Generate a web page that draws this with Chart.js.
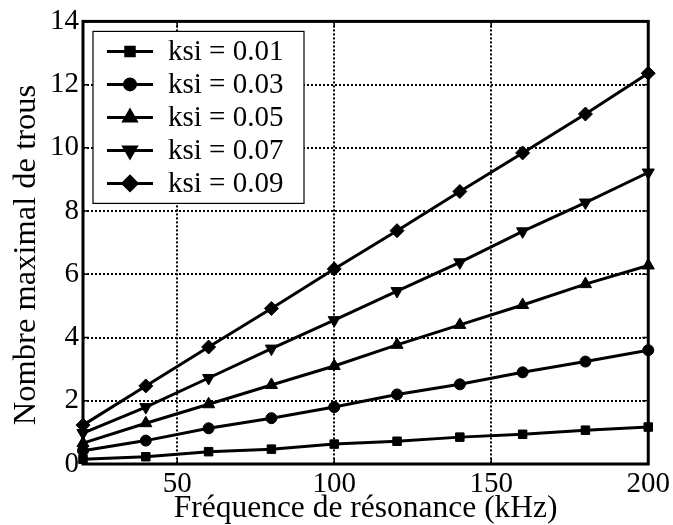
<!DOCTYPE html>
<html>
<head>
<meta charset="utf-8">
<script src="https://cdn.jsdelivr.net/npm/chart.js@4.4.0/dist/chart.umd.min.js"></script>
<style>
html,body{margin:0;padding:0;background:#fff;}
#wrap{width:673px;height:525px;position:relative;}
</style>
</head>
<body>
<div id="wrap"><canvas id="c" width="673" height="525"></canvas></div>
<script>
const freq = [20, 40, 60, 80, 100, 120, 140, 160, 180, 200];
const ksi001 = [0.15, 0.23, 0.39, 0.47, 0.63, 0.72, 0.85, 0.94, 1.07, 1.17];
const ksi003 = [0.42, 0.74, 1.13, 1.45, 1.80, 2.20, 2.52, 2.90, 3.24, 3.60];
const ksi005 = [0.66, 1.29, 1.89, 2.50, 3.10, 3.77, 4.40, 5.03, 5.69, 6.28];
const ksi007 = [0.98, 1.80, 2.72, 3.65, 4.55, 5.47, 6.38, 7.36, 8.27, 9.22];
const ksi009 = [1.23, 2.47, 3.70, 4.92, 6.17, 7.38, 8.62, 9.84, 11.07, 12.36];
const seriesLabels = ['ksi = 0.01', 'ksi = 0.03', 'ksi = 0.05', 'ksi = 0.07', 'ksi = 0.09'];
const xTickValues = [50, 100, 150, 200];
const yTickValues = [0, 2, 4, 6, 8, 10, 12, 14];
const xTitle = 'Fréquence de résonance (kHz)';
const yTitle = 'Nombre maximal de trous';

const FONT = "'Liberation Serif', 'Times New Roman', serif";
const styles = [
  {pointStyle: 'rect', rotation: 0, radius: 6},
  {pointStyle: 'circle', rotation: 0, radius: 5.5},
  {pointStyle: 'triangle', rotation: 0, radius: 7},
  {pointStyle: 'triangle', rotation: 180, radius: 7},
  {pointStyle: 'rectRot', rotation: 0, radius: 7}
];
const allSeries = [ksi001, ksi003, ksi005, ksi007, ksi009];

const datasets = allSeries.map((vals, i) => ({
  label: seriesLabels[i],
  data: freq.map((f, j) => ({x: f, y: vals[j]})),
  borderColor: '#000',
  backgroundColor: '#000',
  borderWidth: 3,
  pointStyle: styles[i].pointStyle,
  pointRotation: styles[i].rotation,
  pointRadius: styles[i].radius,
  pointBorderWidth: 1,
  pointBackgroundColor: '#000',
  pointBorderColor: '#000',
  tension: 0,
  clip: false
}));

const frameLegend = {
  id: 'frameLegend',
  afterDatasetsDraw(chart) {
    const {ctx, chartArea: a} = chart;
    ctx.save();
    ctx.strokeStyle = '#000';
    ctx.lineWidth = 1.5;
    ctx.setLineDash([]);
    const xs = chart.scales.x, ys = chart.scales.y;
    xTickValues.forEach(v => {
      const px = xs.getPixelForValue(v);
      ctx.beginPath();
      ctx.moveTo(px, a.bottom); ctx.lineTo(px, a.bottom - 6);
      ctx.moveTo(px, a.top); ctx.lineTo(px, a.top + 6);
      ctx.stroke();
    });
    yTickValues.forEach(v => {
      const py = ys.getPixelForValue(v);
      ctx.beginPath();
      ctx.moveTo(a.left, py); ctx.lineTo(a.left + 6, py);
      ctx.moveTo(a.right, py); ctx.lineTo(a.right - 6, py);
      ctx.stroke();
    });
    ctx.lineWidth = 3;
    ctx.strokeRect(a.left, a.top, a.right - a.left, a.bottom - a.top);
    // legend
    const lx = a.left + 10, ly = a.top + 10, lw = 211, lh = 172;
    ctx.fillStyle = '#fff';
    ctx.fillRect(lx, ly, lw, lh);
    ctx.lineWidth = 1.2;
    ctx.strokeStyle = '#000';
    ctx.strokeRect(lx, ly, lw, lh);
    ctx.font = '29px ' + FONT;
    ctx.textBaseline = 'middle';
    ctx.textAlign = 'left';
    chart.data.datasets.forEach((ds, i) => {
      const cy = ly + 20 + i * 33;
      ctx.strokeStyle = '#000';
      ctx.lineWidth = 3;
      ctx.beginPath();
      ctx.moveTo(lx + 14, cy); ctx.lineTo(lx + 60, cy);
      ctx.stroke();
      ctx.fillStyle = '#000';
      Chart.helpers.drawPoint(ctx, {
        pointStyle: ds.pointStyle,
        rotation: ds.pointRotation,
        radius: ds.pointRadius,
        borderWidth: 1
      }, lx + 37, cy);
      ctx.fillStyle = '#000';
      ctx.fillText(ds.label, lx + 75, cy + 1);
    });
    // y axis title
    ctx.save();
    ctx.translate(26, 255);
    ctx.rotate(-Math.PI / 2);
    ctx.textAlign = 'center';
    ctx.textBaseline = 'middle';
    ctx.font = '32.5px ' + FONT;
    ctx.fillText(yTitle, 0, 0);
    ctx.restore();
    ctx.restore();
  }
};

new Chart(document.getElementById('c'), {
  type: 'line',
  data: {datasets},
  options: {
    responsive: false,
    animation: false,
    devicePixelRatio: 1,
    layout: {padding: {top: 19, right: 22, left: 0, bottom: 0}},
    plugins: {legend: {display: false}, tooltip: {enabled: false}},
    scales: {
      x: {
        type: 'linear',
        min: 20, max: 200,
        afterBuildTicks(s) { s.ticks = xTickValues.map(v => ({value: v})); },
        afterFit(s) { s.height = 61; },
        grid: {color: '#000', lineWidth: 2, drawTicks: false},
        border: {display: false, dash: [2, 2]},
        ticks: {color: '#000', font: {family: FONT, size: 29}, padding: 3, maxRotation: 0},
        title: {display: true, text: xTitle, color: '#000', font: {family: FONT, size: 31.5}, padding: {top: 0, bottom: -3}}
      },
      y: {
        type: 'linear',
        min: 0, max: 14,
        afterBuildTicks(s) { s.ticks = yTickValues.map(v => ({value: v})); },
        afterFit(s) { s.width = 83; },
        grid: {color: '#000', lineWidth: 2, drawTicks: false},
        border: {display: false, dash: [2, 2]},
        ticks: {color: '#000', font: {family: FONT, size: 29}, padding: 4},
        title: {display: false, text: yTitle}
      }
    }
  },
  plugins: [frameLegend]
});
</script>
</body>
</html>
